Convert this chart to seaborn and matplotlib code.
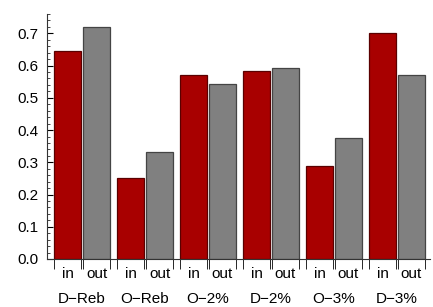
import matplotlib
matplotlib.use("Agg")
import matplotlib.pyplot as plt
import matplotlib.transforms as mtransforms
import seaborn as sns
import pandas as pd
import numpy as np

groups = ["D\u2212Reb", "O\u2212Reb", "O\u22122%", "D\u22122%", "O\u22123%", "D\u22123%"]
series = ["in", "out"]
in_values = [0.644, 0.251, 0.572, 0.584, 0.288, 0.700]
out_values = [0.721, 0.333, 0.542, 0.591, 0.375, 0.572]
y_ticks = [0.0, 0.1, 0.2, 0.3, 0.4, 0.5, 0.6, 0.7]

df = pd.DataFrame({
    "group": groups * 2,
    "series": ["in"] * len(groups) + ["out"] * len(groups),
    "value": in_values + out_values,
})

sns.set_style("white")
plt.rcParams["font.family"] = ["Liberation Sans", "DejaVu Sans"]

FS = 11

fig = plt.figure(figsize=(4.33, 3.07), dpi=100)
ax = fig.add_axes([47 / 433, 1 - 259 / 307, (430 - 47) / 433, (259 - 14) / 307])

sns.barplot(data=df, x="group", y="value", hue="series", order=groups,
            hue_order=series, palette={"in": "#a80000", "out": "#808080"},
            width=0.92, gap=0.07, ax=ax, legend=False, saturation=1)

edge_cols = {"in": "#5a0000", "out": "#444444"}
edges = []
trans = mtransforms.blended_transform_factory(ax.transData, ax.transAxes)
for i, p in enumerate(ax.patches):
    s = "in" if i < len(groups) else "out"
    p.set_edgecolor(edge_cols[s])
    p.set_linewidth(0.9)
    x0 = p.get_x()
    w = p.get_width()
    edges += [x0, x0 + w]
    ax.text(x0 + w / 2, -0.062, s, transform=trans,
            ha="center", va="center", fontsize=FS, color="black", clip_on=False)

ax.set_xlim(-0.556, 5.524)
ax.set_ylim(0, 0.76)
ax.set_yticks(y_ticks)
ax.set_yticklabels([f"{v:.1f}" for v in y_ticks])
ax.set_yticks(np.arange(0, 0.761, 0.02), minor=True)
ax.tick_params(axis="y", which="major", direction="in", length=4, width=0.8,
               labelsize=FS, left=True, pad=6, colors="black")
ax.tick_params(axis="y", which="minor", direction="in", length=2.2, width=0.6, left=True)

ax.set_xticks(range(len(groups)))
ax.set_xticklabels(groups)
ax.set_xticks(sorted(edges), minor=True)
ax.tick_params(axis="x", which="major", length=0, labelsize=FS, pad=24, colors="black")
ax.tick_params(axis="x", which="minor", direction="out", length=7, width=0.7, bottom=True)

ax.set_xlabel("")
ax.set_ylabel("")
sns.despine(ax=ax)
for sp in ["left", "bottom"]:
    ax.spines[sp].set_color("#333333")
    ax.spines[sp].set_linewidth(0.8)

fig.savefig("out.png", dpi=100)
